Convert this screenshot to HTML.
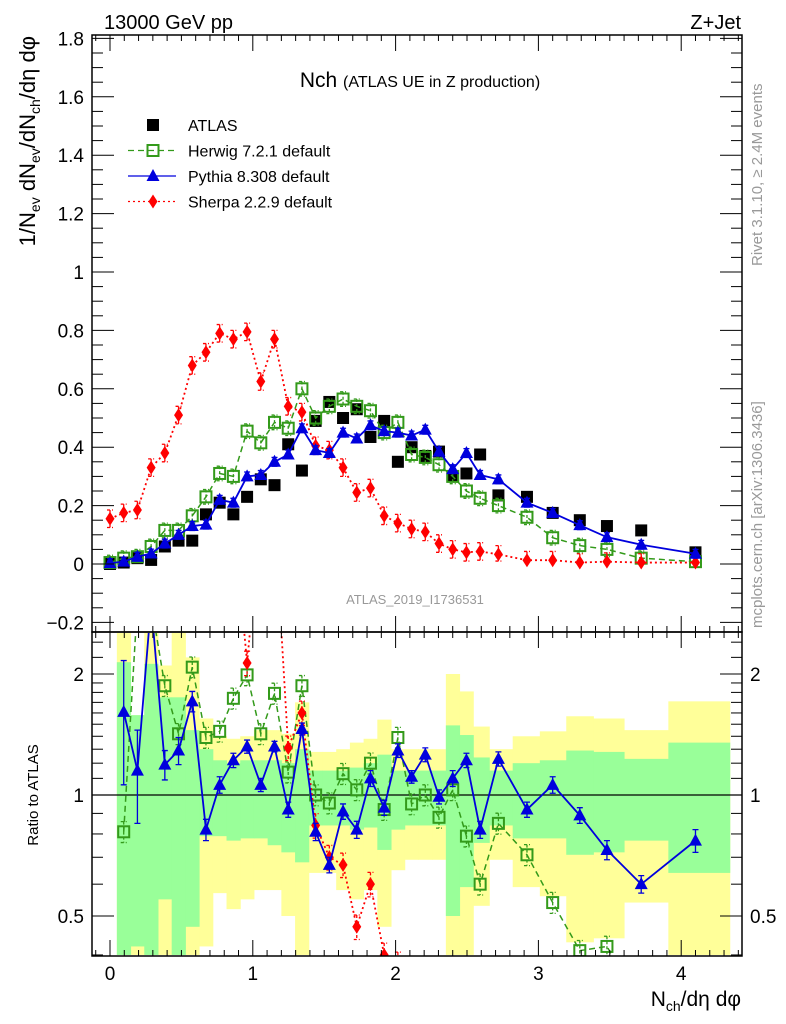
<!DOCTYPE html>
<html><head><meta charset="utf-8">
<style>
html,body{margin:0;padding:0;background:#fff;}
svg{display:block;font-family:"Liberation Sans",sans-serif;}
</style></head>
<body>
<svg id="chart" width="786" height="1024" viewBox="0 0 786 1024" xmlns="http://www.w3.org/2000/svg">
<defs>
<clipPath id="clipMain"><rect x="92" y="35" width="650" height="597"/></clipPath>
<clipPath id="clipRatio"><rect x="92" y="633" width="650" height="323"/></clipPath>
</defs>
<g id="bands" clip-path="url(#clipRatio)"></g>
<g id="plotMain" clip-path="url(#clipMain)"></g>
<g id="plotRatio" clip-path="url(#clipRatio)"></g>
<g id="axes"></g>
<text x="104" y="29" font-size="20">13000 GeV pp</text>
<text x="741" y="29" font-size="20" text-anchor="end">Z+Jet</text>
<text x="420" y="87" font-size="21" text-anchor="middle">Nch <tspan font-size="16">(ATLAS UE in Z production)</tspan></text>
<text x="415" y="604" font-size="13" fill="#999" text-anchor="middle">ATLAS_2019_I1736531</text>
<text transform="translate(762,266) rotate(-90)" font-size="15" fill="#999">Rivet 3.1.10, ≥ 2.4M events</text>
<text transform="translate(762,628) rotate(-90)" font-size="15" fill="#999">mcplots.cern.ch [arXiv:1306.3436]</text>
<text transform="translate(35,36) rotate(-90)" font-size="22" text-anchor="end">1/N<tspan font-size="14" dy="5">ev</tspan><tspan dy="-5"> dN</tspan><tspan font-size="14" dy="5">ev</tspan><tspan dy="-5">/dN</tspan><tspan font-size="14" dy="5">ch</tspan><tspan dy="-5">/dη dφ</tspan></text>
<text transform="translate(38,795) rotate(-90)" font-size="15" text-anchor="middle">Ratio to ATLAS</text>
<text x="741" y="1006" font-size="21" text-anchor="end">N<tspan font-size="14" dy="5">ch</tspan><tspan dy="-5">/dη dφ</tspan></text>
<g id="legend"></g>
</svg>
<script>
const xVals = [0,0.096,0.192,0.288,0.384,0.48,0.576,0.672,0.768,0.864,0.96,1.056,1.152,1.248,1.344,1.44,1.536,1.632,1.728,1.824,1.92,2.016,2.112,2.208,2.304,2.4,2.496,2.592,2.72,2.92,3.10,3.29,3.48,3.72,4.10];
const atlasVals = [0.0,0.005,0.02,0.014,0.06,0.08,0.08,0.17,0.21,0.17,0.23,0.29,0.27,0.41,0.32,0.49,0.555,0.50,0.53,0.435,0.49,0.35,0.40,0.37,0.385,0.30,0.31,0.375,0.235,0.23,0.175,0.15,0.13,0.115,0.04];
const herwigVals = [0.005,0.02,0.025,0.06,0.115,0.115,0.165,0.23,0.31,0.30,0.455,0.415,0.485,0.465,0.60,0.50,0.54,0.565,0.54,0.525,0.45,0.485,0.375,0.365,0.34,0.30,0.25,0.225,0.20,0.16,0.09,0.063,0.05,0.02,0.008];
const pythiaVals = [0.003,0.008,0.025,0.036,0.07,0.10,0.13,0.135,0.22,0.21,0.30,0.305,0.35,0.375,0.465,0.39,0.38,0.45,0.43,0.475,0.455,0.45,0.44,0.46,0.385,0.325,0.38,0.305,0.29,0.21,0.175,0.133,0.092,0.066,0.035];
const sherpaVals = [0.155,0.175,0.185,0.33,0.38,0.51,0.68,0.725,0.79,0.77,0.795,0.625,0.77,0.54,0.52,0.405,0.39,0.33,0.245,0.26,0.165,0.14,0.12,0.11,0.07,0.05,0.04,0.043,0.033,0.013,0.013,0.005,0.008,0.005,0.005];
// ratio panel (bins 1..34)
const ratioX = xVals.slice(1);
const herwigRatio = [0.81,3.0,3.0,1.87,1.42,2.08,1.39,1.44,1.74,1.99,1.42,1.79,1.14,1.87,1.0,0.955,1.13,1.03,1.20,0.92,1.39,0.95,1.0,0.88,1.03,0.79,0.60,0.85,0.71,0.54,0.41,0.42,0.3,0.3];
const pythiaRatio = [1.61,1.15,3.0,1.19,1.29,1.71,0.82,1.06,1.22,1.32,1.06,1.32,0.92,1.46,0.81,0.67,0.91,0.82,1.10,0.93,1.29,1.11,1.26,0.99,1.10,1.22,0.82,1.23,0.92,1.06,0.89,0.73,0.60,0.77];
const pythiaRatioErr = [0.55,0.3,0.1,0.1,0.1,0.1,0.05,0.05,0.05,0.05,0.04,0.04,0.04,0.05,0.04,0.03,0.04,0.04,0.05,0.04,0.05,0.04,0.05,0.04,0.05,0.05,0.04,0.05,0.04,0.05,0.04,0.04,0.03,0.05];
const sherpaRatio = [5,5,5,5,5,5,5,5,5,2.13,5,5,1.31,1.6,0.84,0.70,0.67,0.47,0.60,0.40,0.38,0.3,0.3,0.3,0.3,0.3,0.3,0.3,0.3,0.3,0.3,0.3,0.3,0.3];
const greenHi = [2.14,1.58,2.12,1.75,1.75,1.45,1.30,1.22,1.20,1.22,1.22,1.22,1.20,1.30,1.15,1.15,1.15,1.17,1.20,1.26,1.15,1.15,1.15,1.15,1.49,1.41,1.24,1.15,1.20,1.22,1.29,1.28,1.23,1.35];
const greenLo = [0.4,0.42,0.4,0.55,0.4,0.47,0.79,0.79,0.77,0.78,0.78,0.75,0.72,0.68,0.84,0.84,0.84,0.82,0.83,0.73,0.82,0.84,0.84,0.84,0.5,0.59,0.76,0.84,0.78,0.78,0.71,0.72,0.77,0.64];
const yellowHi = [2.6,1.58,2.6,2.1,2.6,2.2,1.55,1.40,1.38,1.40,1.45,1.45,1.42,1.70,1.28,1.28,1.30,1.35,1.38,1.54,1.30,1.30,1.30,1.30,2.0,1.81,1.48,1.30,1.40,1.44,1.57,1.55,1.45,1.71];
const yellowLo = [0.4,0.4,0.4,0.4,0.4,0.4,0.42,0.57,0.52,0.55,0.58,0.58,0.5,0.4,0.64,0.64,0.58,0.55,0.58,0.47,0.65,0.69,0.69,0.69,0.4,0.4,0.53,0.69,0.59,0.56,0.43,0.44,0.54,0.4];
const yTicksMain = ["−0.2","0","0.2","0.4","0.6","0.8","1","1.2","1.4","1.6","1.8"];
const yTickValsMain = [-0.2,0,0.2,0.4,0.6,0.8,1,1.2,1.4,1.6,1.8];
const xTickLabels = ["0","1","2","3","4"];
const ratioTickLabels = ["0.5","1","2"];
const ratioTickVals = [0.5,1,2];

const NS="http://www.w3.org/2000/svg";
const X = v => 110 + v*142.8;
const Ym = v => 564 - v*292;
const Yr = r => 795 - 121*Math.log2(r);
function mk(tag, attrs, parent){const e=document.createElementNS(NS,tag);for(const k in attrs)e.setAttribute(k,attrs[k]);parent.appendChild(e);return e;}
const axes=document.getElementById('axes'), gm=document.getElementById('plotMain'), gr=document.getElementById('plotRatio'), gb=document.getElementById('bands'), lg=document.getElementById('legend');

function edges(i){const x=ratioX;const l=i===0?x[0]-0.048:(x[i-1]+x[i])/2;const r=i===x.length-1?4.34:(x[i]+x[i+1])/2;return [l,r];}
ratioX.forEach((x,i)=>{const [l,r]=edges(i);
 const y=mk('rect',{x:X(l),y:Yr(yellowHi[i]),width:X(r)-X(l)+0.5,height:Yr(yellowLo[i])-Yr(yellowHi[i]),fill:'#ffff99'},gb);
 
 
});
ratioX.forEach((x,i)=>{const [l,r]=edges(i);
 const g=mk('rect',{x:X(l),y:Yr(greenHi[i]),width:X(r)-X(l)+0.5,height:Yr(greenLo[i])-Yr(greenHi[i]),fill:'#99ff99'},gb);
 
 
});
const one=mk('line',{x1:92,x2:742,y1:Yr(1),y2:Yr(1),stroke:'#000','stroke-width':1.3},gr);



const styles={
 herwig:{c:'#339a1a',dash:'6,4',w:1.5},
 pythia:{c:'#0000dd',dash:'',w:1.8},
 sherpa:{c:'#ff0000',dash:'2,3',w:1.8}
};
function marker(kind,cx,cy,parent,name){let e;
 if(kind==='atlas') e=mk('rect',{x:cx-6,y:cy-6,width:12,height:12,fill:'#000'},parent);
 else if(kind==='herwig') e=mk('rect',{x:cx-5.5,y:cy-5.5,width:11,height:11,fill:'none',stroke:styles.herwig.c,'stroke-width':2},parent);
 else if(kind==='pythia') e=mk('polygon',{points:`${cx},${cy-7} ${cx+6.5},${cy+5} ${cx-6.5},${cy+5}`,fill:styles.pythia.c},parent);
 else e=mk('polygon',{points:`${cx},${cy-7} ${cx+4.5},${cy} ${cx},${cy+7} ${cx-4.5},${cy}`,fill:styles.sherpa.c},parent);
 
 
 return e;}
function series(kind,xs,ys,Y,parent,err){
 if(kind!=='atlas'){const s=styles[kind];
  const p=mk('polyline',{points:xs.map((x,i)=>X(x)+','+Y(ys[i])).join(' '),fill:'none',stroke:s.c,'stroke-width':s.w,'stroke-dasharray':s.dash},parent);
  
  
  xs.forEach((x,i)=>{const e=err(ys[i],i);const a=Y(ys[i]+e),b=Y(Math.max(ys[i]-e,0.01));
   const eb=mk('path',{d:`M${X(x)},${a}V${b}M${X(x)-3},${a}h6M${X(x)-3},${b}h6`,stroke:s.c,'stroke-width':1.3,fill:'none','stroke-dasharray':kind==='pythia'?'':'3,2'},parent);
   
   });
 }
 xs.forEach((x,i)=>marker(kind,X(x),Y(ys[i]),parent,kind+'-point'));
}
series('atlas',xVals,atlasVals,Ym,gm);
series('herwig',xVals,herwigVals,Ym,gm,v=>0.025);
series('sherpa',xVals,sherpaVals,Ym,gm,v=>0.03);
series('pythia',xVals,pythiaVals,Ym,gm,v=>0.015);
series('herwig',ratioX,herwigRatio,Yr,gr,v=>v*0.06);
series('sherpa',ratioX,sherpaRatio,Yr,gr,v=>v*0.07);
series('pythia',ratioX,pythiaRatio,Yr,gr,(v,i)=>pythiaRatioErr[i]);

[[35,632],[632,956]].forEach(([t,b],k)=>{const f=mk('rect',{x:92,y:t,width:650,height:b-t,fill:'none',stroke:'#000','stroke-width':1.5},axes);
 
 });
function xticks(top,bottom){for(let k=-1;k<=44;k++){const v=k/10;const x=X(v);if(x<92||x>742)continue;const maj=k%10===0;const L=maj?16:6;
 mk('line',{x1:x,x2:x,y1:top,y2:top+L,stroke:'#000','stroke-width':1},axes);
 mk('line',{x1:x,x2:x,y1:bottom,y2:bottom-L,stroke:'#000','stroke-width':1},axes);}}
xticks(35,632);xticks(632,956);
xTickLabels.forEach((t,i)=>{const e=mk('text',{x:X(i),y:980,'font-size':19,'text-anchor':'middle'},axes);e.textContent=t;
 
 });
for(let k=-4;k<=36;k++){const v=k/20;const y=Ym(v);const maj=k%4===0;const L=maj?22:11;
 mk('line',{x1:92,x2:92+L,y1:y,y2:y,stroke:'#000','stroke-width':1},axes);
 mk('line',{x1:742,x2:742-L,y1:y,y2:y,stroke:'#000','stroke-width':1},axes);}
yTicksMain.forEach((t,i)=>{const e=mk('text',{x:84,y:Ym(yTickValsMain[i])+7,'font-size':19,'text-anchor':'end'},axes);e.textContent=t;
 
 });
[0.4,0.5,0.6,0.7,0.8,0.9,1,1.1,1.2,1.3,1.4,1.5,1.6,1.7,1.8,1.9,2,2.2,2.4].forEach(v=>{const y=Yr(v);const maj=(v===0.5||v===1||v===2);const L=maj?22:11;if(y<633||y>955)return;
 mk('line',{x1:92,x2:92+L,y1:y,y2:y,stroke:'#000','stroke-width':1},axes);
 mk('line',{x1:742,x2:742-L,y1:y,y2:y,stroke:'#000','stroke-width':1},axes);});
ratioTickLabels.forEach((t,i)=>{const y=Yr(ratioTickVals[i])+7;
 const a=mk('text',{x:84,y:y,'font-size':19,'text-anchor':'end'},axes);a.textContent=t;
 
 
 const b=mk('text',{x:750,y:y,'font-size':19},axes);b.textContent=t;
 
 });
const legItems=[['atlas','ATLAS'],['herwig','Herwig 7.2.1 default'],['pythia','Pythia 8.308 default'],['sherpa','Sherpa 2.2.9 default']];
legItems.forEach(([k,t],i)=>{const y=125+i*25.5;
 if(k!=='atlas'){const s=styles[k];const l=mk('line',{x1:128,x2:176,y1:y,y2:y,stroke:s.c,'stroke-width':1.3,'stroke-dasharray':s.dash},lg);
  
  }
 marker(k,153,y,lg,'legend-marker-'+k);
 const e=mk('text',{x:188,y:y+6,'font-size':16},lg);e.textContent=t;
 
 });
</script>
</body></html>
